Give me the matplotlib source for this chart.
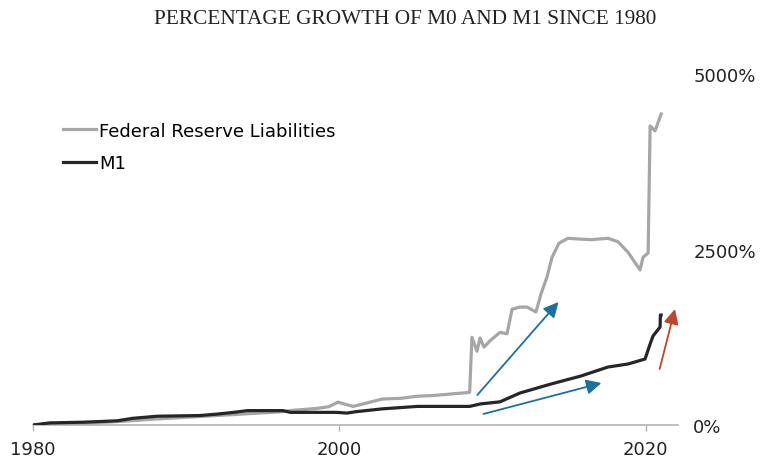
import matplotlib
matplotlib.use("Agg")
import matplotlib.pyplot as plt

# Federal Reserve Liabilities (M0), % growth since 1980
m0_years = [1980, 1982, 1984, 1986, 1988, 1990, 1992, 1994, 1996, 1997.0,
            1998.5, 1999.3, 1999.9, 2000.9, 2002.8, 2004.0, 2005.1, 2006.1,
            2007.2, 2008.5, 2008.65, 2008.98, 2009.18, 2009.44, 2009.83,
            2010.48, 2010.94, 2011.27, 2011.79, 2012.25, 2012.83, 2013.16,
            2013.55, 2013.88, 2014.33, 2014.92, 2015.6, 2016.42, 2017.0,
            2017.53, 2018.19, 2018.84, 2019.62, 2019.82, 2020.15, 2020.28,
            2020.6, 2021.0]
m0_vals = [0, 15, 30, 55, 85, 110, 135, 160, 185, 210,
           235, 260, 325, 265, 370, 380, 410, 420,
           440, 465, 1250, 1050, 1240, 1110, 1200,
           1320, 1300, 1650, 1680, 1680, 1610, 1870,
           2110, 2390, 2590, 2660, 2650, 2640, 2650,
           2660, 2610, 2460, 2210, 2390, 2450, 4260,
           4190, 4430]

# M1, % growth since 1980
m1_years = [1980, 1981.1, 1983.3, 1985.5, 1986.5, 1988.1, 1990.9, 1992.0,
            1993.1, 1994.0, 1996.3, 1996.8, 1999.8, 2000.5, 2001.1, 2002.8,
            2005.1, 2008.5, 2009.2, 2010.48, 2011.79, 2013.81, 2015.77,
            2017.53, 2018.84, 2019.95, 2020.28, 2020.47, 2020.93, 2020.95,
            2021.0]
m1_vals = [0, 30, 40, 60, 95, 125, 135, 155,
           180, 205, 205, 180, 180, 170, 190, 230,
           265, 265, 300, 330, 456, 584, 698,
           826, 869, 940, 1154, 1268, 1396, 1567,
           1567]

# annotation arrows: (tail year, tail %, head year, head %)
arrows = [
    (2009.0, 427, 2014.3, 1752, "#1a6fa3"),
    (2009.4, 157, 2017.1, 598, "#1a6fa3"),
    (2020.9, 798, 2021.9, 1652, "#c0462a"),
]

x_ticks = [1980, 2000, 2020]
y_ticks = [0, 2500, 5000]
y_labels = ["0%", "2500%", "5000%"]

sans = "DejaVu Sans"

fig = plt.figure(figsize=(7.62, 4.60), dpi=100)
ax = fig.add_axes([33 / 762, 34 / 460, 645 / 762, 366 / 460])

ax.plot(m0_years, m0_vals, color="#a6a6a6", lw=2.3, solid_joinstyle="round",
        label="Federal Reserve Liabilities", zorder=3)
ax.plot(m1_years, m1_vals, color="#262626", lw=2.3, solid_joinstyle="round",
        label="M1", zorder=4)

for x0, y0, x1, y1, c in arrows:
    ax.annotate("", xy=(x1, y1), xytext=(x0, y0),
                arrowprops=dict(arrowstyle="-|>,head_length=0.6,head_width=0.3",
                                color=c, lw=1.3, shrinkA=0, shrinkB=0,
                                mutation_scale=15),
                zorder=5)

ax.set_xlim(1980, 2022.1)
ax.set_ylim(0, 5214)

for s in ["top", "left", "right"]:
    ax.spines[s].set_visible(False)
ax.spines["bottom"].set_color("#b3b3b3")
ax.spines["bottom"].set_linewidth(1.2)

ax.set_xticks(x_ticks)
ax.set_xticklabels([str(t) for t in x_ticks], fontsize=13, family=sans,
                   color="#222222")
ax.tick_params(axis="x", length=4, width=1, color="#b3b3b3", pad=7)

ax.yaxis.tick_right()
ax.set_yticks(y_ticks)
ax.set_yticklabels(y_labels, fontsize=13, family=sans, color="#222222")
ax.tick_params(axis="y", length=0, pad=11)

leg = ax.legend(loc="center left", bbox_to_anchor=(63 / 762, 1 - 148 / 460),
                bbox_transform=fig.transFigure, frameon=False,
                prop={"family": sans, "size": 13}, handlelength=1.85,
                handletextpad=0.15, labelspacing=0.8, borderpad=0,
                borderaxespad=0)

fig.text(405 / 762, 1 - 20 / 460, "PERCENTAGE GROWTH OF M0 AND M1 SINCE 1980",
         ha="center", va="center", family="Liberation Serif", fontsize=15.3,
         color="#222222")

fig.savefig("out.png", dpi=100)
